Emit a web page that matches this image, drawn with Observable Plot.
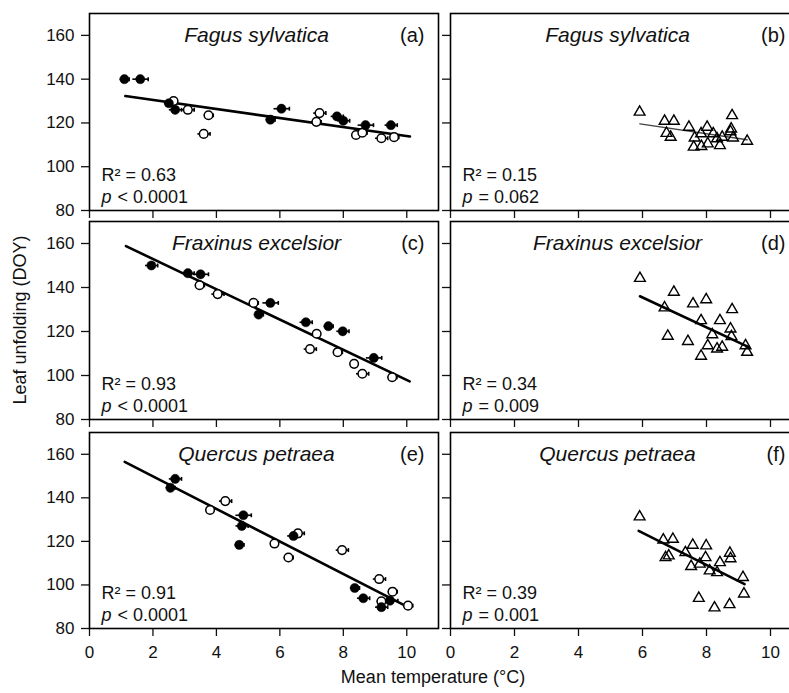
<!DOCTYPE html>
<html><head><meta charset="utf-8">
<script src="https://cdn.jsdelivr.net/npm/d3@7"></script>
<script src="https://cdn.jsdelivr.net/npm/@observablehq/plot@0.6"></script>
<style>
body{margin:0;background:#fff;}
#chart{position:relative;width:789px;height:693px;overflow:hidden;font-family:"Liberation Sans",Arial,sans-serif;color:#111;}
.panel{position:absolute;}
.panel svg{overflow:visible;}
#ylab{position:absolute;left:20px;top:320px;transform:translate(-50%,-50%) rotate(-90deg);font-size:18px;white-space:nowrap;}
#xlab{position:absolute;left:433px;top:677px;transform:translate(-50%,-50%);font-size:18px;white-space:nowrap;}
</style></head><body>
<div id="chart"><div id="ylab">Leaf unfolding (DOY)</div><div id="xlab">Mean temperature (°C)</div></div>
<script>
// ---- tick labels ----
const xTicks = [0, 2, 4, 6, 8, 10];
const yTicks = [80, 100, 120, 140, 160];

// ---- panel texts ----
const species = ["Fagus sylvatica", "Fagus sylvatica", "Fraxinus excelsior", "Fraxinus excelsior", "Quercus petraea", "Quercus petraea"];
const letters = ["(a)", "(b)", "(c)", "(d)", "(e)", "(f)"];
const r2Labels = ["R² = 0.63", "R² = 0.15", "R² = 0.93", "R² = 0.34", "R² = 0.91", "R² = 0.39"];
const pLabels = ["< 0.0001", "= 0.062", "< 0.0001", "= 0.009", "< 0.0001", "= 0.001"];

// ---- panel (a) ----
const aFilledTemp = [1.1, 1.6, 2.5, 2.7, 5.7, 6.05, 7.8, 8.0, 8.7, 9.5];
const aFilledDoy  = [140, 140, 129, 126, 121.5, 126.5, 123, 121, 119, 119];
const aFilledErr  = [0.15, 0.25, 0.15, 0.2, 0.15, 0.25, 0.2, 0.2, 0.25, 0.2];
const aOpenTemp = [2.65, 3.1, 3.75, 3.6, 7.15, 7.25, 8.4, 8.6, 9.2, 9.6];
const aOpenDoy  = [130, 126, 123.5, 115, 120.5, 124.5, 114.5, 115.5, 113, 113.5];
const aOpenErr  = [0.1, 0.2, 0.15, 0.2, 0.15, 0.2, 0.15, 0.15, 0.2, 0.15];
const aFitTemp = [1.13, 10.1];
const aFitDoy  = [132.3, 113.8];

// ---- panel (b) ----
const bTemp = [5.91, 6.69, 6.98, 6.75, 6.88, 7.45, 7.63, 7.6, 7.83, 7.84, 8.02, 8.04, 8.21, 8.42, 8.33, 8.49, 8.8, 8.77, 8.83, 9.27, 8.75];
const bDoy  = [125, 120.8, 120.8, 115.3, 113.5, 118.1, 113.2, 109, 115.1, 109.3, 118.1, 110.5, 115.1, 109.7, 112.8, 113.5, 123.4, 117.3, 113.2, 111.7, 116];
const bFitTemp = [5.92, 9.27];
const bFitDoy  = [119.6, 112.3];

// ---- panel (c) ----
const cFilledTemp = [1.95, 3.1, 3.5, 5.33, 5.7, 6.82, 7.53, 7.98, 8.96];
const cFilledDoy  = [150, 146.5, 146, 127.7, 133, 124.2, 122.4, 120.1, 108];
const cFilledErr  = [0.2, 0.2, 0.25, 0.15, 0.25, 0.2, 0.15, 0.2, 0.25];
const cOpenTemp = [3.47, 4.04, 5.17, 7.16, 6.95, 7.82, 8.34, 8.6, 9.54];
const cOpenDoy  = [141, 137, 133, 119, 112, 110.6, 105.3, 100.8, 99.2];
const cOpenErr  = [0.15, 0.2, 0.15, 0.1, 0.2, 0.15, 0.1, 0.2, 0.15];
const cFitTemp = [1.15, 10.09];
const cFitDoy  = [158.8, 97.3];

// ---- panel (d) ----
const dTemp = [5.92, 6.98, 6.69, 6.79, 7.42, 7.58, 7.99, 7.83, 7.83, 8.04, 8.18, 8.33, 8.49, 8.42, 8.8, 8.75, 8.78, 9.22, 9.27];
const dDoy  = [144.2, 137.9, 130.8, 117.9, 115.5, 132.6, 134.5, 125, 108.8, 113.6, 118.6, 112.1, 112.9, 125, 130, 121.2, 117.7, 113.6, 110.6];
const dFitTemp = [5.92, 9.32];
const dFitDoy  = [136, 112.9];

// ---- panel (e) ----
const eFilledTemp = [2.7, 2.55, 4.85, 4.8, 4.72, 6.43, 8.36, 8.63, 9.2, 9.47];
const eFilledDoy  = [148.7, 144.6, 132, 127.1, 118.4, 122.5, 98.6, 93.9, 89.8, 92.8];
const eFilledErr  = [0.2, 0.15, 0.25, 0.2, 0.15, 0.2, 0.15, 0.2, 0.2, 0.25];
const eOpenTemp = [4.28, 3.8, 6.57, 5.83, 6.27, 7.96, 9.13, 9.55, 9.2, 10.04];
const eOpenDoy  = [138.5, 134.4, 123.7, 119, 112.6, 116, 102.7, 96.9, 92.5, 90.5];
const eOpenErr  = [0.2, 0.1, 0.2, 0.1, 0.15, 0.2, 0.2, 0.15, 0.15, 0.15];
const eFitTemp = [1.11, 10.04];
const eFitDoy  = [156.5, 89.8];

// ---- panel (f) ----
const fTemp = [5.91, 6.65, 6.95, 6.72, 6.82, 7.34, 7.57, 7.99, 7.52, 7.79, 7.97, 8.1, 8.33, 8.42, 8.73, 8.75, 9.14, 9.17, 7.76, 8.25, 8.72];
const fDoy  = [131.3, 120.7, 121, 112.6, 113.4, 114.9, 118.3, 118, 108.5, 109.6, 112.6, 106.5, 105.7, 110.3, 114.6, 112.1, 103.5, 95.9, 93.9, 89.5, 91];
const fFitTemp = [5.88, 9.19];
const fFitDoy  = [124.8, 100.4];

// ---- build ----
const zip = (xs, ys, es) => xs.map((x, i) => ({x, y: ys[i], e: es ? es[i] : 0}));
const rowTop = [13, 221, 432], rowBottom = [210, 419, 628];
const colLeft = [89, 450], colWidth = [349, 352];
const font = '"Liberation Sans", Arial, sans-serif';

const panels = [
  {filled: zip(aFilledTemp, aFilledDoy, aFilledErr), open: zip(aOpenTemp, aOpenDoy, aOpenErr), fit: zip(aFitTemp, aFitDoy), sig: true},
  {tri: zip(bTemp, bDoy), fit: zip(bFitTemp, bFitDoy), sig: false},
  {filled: zip(cFilledTemp, cFilledDoy, cFilledErr), open: zip(cOpenTemp, cOpenDoy, cOpenErr), fit: zip(cFitTemp, cFitDoy), sig: true},
  {tri: zip(dTemp, dDoy), fit: zip(dFitTemp, dFitDoy), sig: true},
  {filled: zip(eFilledTemp, eFilledDoy, eFilledErr), open: zip(eOpenTemp, eOpenDoy, eOpenErr), fit: zip(eFitTemp, eFitDoy), sig: true},
  {tri: zip(fTemp, fDoy), fit: zip(fFitTemp, fFitDoy), sig: true}
];

const chart = document.getElementById("chart");
panels.forEach((p, i) => {
  const row = Math.floor(i / 2), col = i % 2;
  const mL = col === 0 ? 89 : 14, mT = 2, mR = 2, mB = row === 2 ? 48 : 12;
  const plotH = rowBottom[row] - rowTop[row];
  const width = mL + colWidth[col] + mR, height = mT + plotH + mB;
  const marks = [];
  marks.push(Plot.axisX({ticks: xTicks, tickSize: 8, tickPadding: 9, strokeWidth: 1.3, fontSize: 17, label: null,
    tickFormat: row === 2 ? (d => d) : (() => "")}));
  marks.push(Plot.axisY({ticks: yTicks, tickSize: 8, tickPadding: 7, strokeWidth: 1.3, fontSize: 17, label: null,
    tickFormat: col === 0 ? (d => d) : (() => "")}));
  marks.push(Plot.line(p.fit, {x: "x", y: "y", stroke: p.sig ? "#000" : "#444", strokeWidth: p.sig ? 2.6 : 1.4}));
  if (p.filled) {
    const errs = [...p.filled, ...p.open];
    marks.push(Plot.link(errs, {x1: d => d.x - d.e, x2: d => d.x + d.e, y1: "y", y2: "y", stroke: "#000", strokeWidth: 1.6}));
    marks.push(Plot.link(errs, {x1: d => d.x + d.e, x2: d => d.x + d.e, y1: d => d.y - 0.9, y2: d => d.y + 0.9, stroke: "#000", strokeWidth: 1.6}));
    marks.push(Plot.dot(p.open, {x: "x", y: "y", r: 4.3, fill: "#fff", stroke: "#000", strokeWidth: 1.5}));
    marks.push(Plot.dot(p.filled, {x: "x", y: "y", r: 4.6, fill: "#000", stroke: "#000", strokeWidth: 0.5}));
  }
  if (p.tri) {
    marks.push(Plot.dot(p.tri, {x: "x", y: "y", symbol: "triangle", r: 4, fill: "none", stroke: "#000", strokeWidth: 1.4}));
  }
  marks.push(Plot.text([species[i]], {text: d => d, frameAnchor: "top-left", dx: 167, dy: 28, textAnchor: "middle", lineAnchor: "bottom", fontStyle: "italic", fontSize: 21}));
  marks.push(Plot.text([letters[i]], {text: d => d, frameAnchor: "top-left", dx: 335, dy: 28, textAnchor: "end", lineAnchor: "bottom", fontSize: 20}));
  marks.push(Plot.text([r2Labels[i]], {text: d => d, frameAnchor: "bottom-left", dx: 12, dy: -30, textAnchor: "start", lineAnchor: "bottom", fontSize: 18}));
  marks.push(Plot.text(["p"], {text: d => d, frameAnchor: "bottom-left", dx: 12, dy: -8, textAnchor: "start", lineAnchor: "bottom", fontSize: 18, fontStyle: "italic"}));
  marks.push(Plot.text([pLabels[i]], {text: d => d, frameAnchor: "bottom-left", dx: 28, dy: -8, textAnchor: "start", lineAnchor: "bottom", fontSize: 18}));
  marks.push(Plot.frame({stroke: "#000", strokeWidth: 1.6}));
  const svg = Plot.plot({
    width, height, marginLeft: mL, marginRight: mR, marginTop: mT, marginBottom: mB,
    x: {domain: [0, 11]}, y: {domain: [80, 170]},
    style: {background: "transparent", fontFamily: font, color: "#111", overflow: "visible", maxWidth: "none"},
    marks
  });
  const div = document.createElement("div");
  div.className = "panel";
  div.style.left = (colLeft[col] - mL) + "px";
  div.style.top = (rowTop[row] - mT) + "px";
  div.appendChild(svg);
  chart.appendChild(div);
});
</script></body></html>
